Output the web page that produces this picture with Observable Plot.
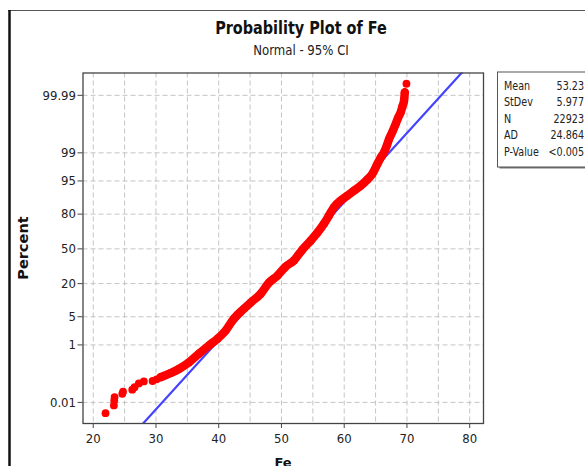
<!DOCTYPE html>
<html><head><meta charset="utf-8">
<script src="https://cdn.jsdelivr.net/npm/d3@7"></script>
<script src="https://cdn.jsdelivr.net/npm/@observablehq/plot@0.6"></script>
<style>
html,body{margin:0;padding:0;background:#fff;}
#wrap{position:relative;width:585px;height:466px;overflow:hidden;background:#fff;}
#wrap svg{position:absolute;left:0;top:0;}
</style></head><body>
<div id="wrap"></div>
<script>
// ---- data ----
const tailFe  = [21.96, 23.29, 23.35, 23.40, 24.63, 24.75, 26.22, 26.59, 27.27, 28.07, 29.46, 30.10];
const tailPct = [0.00345, 0.0075, 0.0121, 0.0165, 0.0224, 0.027, 0.0325, 0.0404, 0.0557, 0.0664, 0.0687, 0.0789];
const bandFe  = [30.73, 32.33, 33.65, 35.25, 36.84, 38.44, 39.78, 41.10, 42.42, 44.02, 45.09, 46.68, 48.01, 49.35, 50.67, 51.99, 53.33, 54.66, 55.73, 56.78, 57.58, 58.37, 59.44, 60.51, 61.56, 62.63, 63.70, 64.50, 65.30, 65.82, 66.35, 66.78, 67.15, 67.69, 68.21, 68.61, 69.01, 69.28, 69.54, 69.65];
const bandPct = [0.0935, 0.131, 0.181, 0.298, 0.554, 0.964, 1.46, 2.39, 4.55, 7.35, 9.68, 13.8, 20.6, 25.8, 33.4, 39.0, 49.2, 57.9, 65.2, 72.9, 79.1, 84.4, 87.9, 90.15, 92.07, 93.7, 95.35, 96.56, 98.03, 98.645, 99.036, 99.379, 99.609, 99.774, 99.8777, 99.9264, 99.9534, 99.972, 99.9835, 99.9925];
const topFe  = [69.92];
const topPct = [99.99683];
const yTickPct    = [0.01, 1, 5, 20, 50, 80, 95, 99, 99.99];
const yTickLabels = ["0.01", "1", "5", "20", "50", "80", "95", "99", "99.99"];
const xTicks = [20, 30, 40, 50, 60, 70, 80];
const xGrid  = [20, 25, 30, 35, 40, 45, 50, 55, 60, 65, 70, 75, 80];
const statLabels = ["Mean", "StDev", "N", "AD", "P-Value"];
const statValues = ["53.23", "5.977", "22923", "24.864", "<0.005"];
const fitFe = [26, 81];

// inverse normal CDF (Acklam)
function probit(p){
  const a=[-3.969683028665376e+01,2.209460984245205e+02,-2.759285104469687e+02,1.383577518672690e+02,-3.066479806614716e+01,2.506628277459239e+00];
  const b=[-5.447609879822406e+01,1.615858368580409e+02,-1.556989798598866e+02,6.680131188771972e+01,-1.328068155288572e+01];
  const c=[-7.784894002430293e-03,-3.223964580411365e-01,-2.400758277161838e+00,-2.549732539343734e+00,4.374664141464968e+00,2.938163982698783e+00];
  const d=[7.784695709041462e-03,3.224671290700398e-01,2.445134137142996e+00,3.754408661907416e+00];
  const pl=0.02425, ph=1-pl; let q,r;
  if(p<pl){q=Math.sqrt(-2*Math.log(p));return (((((c[0]*q+c[1])*q+c[2])*q+c[3])*q+c[4])*q+c[5])/((((d[0]*q+d[1])*q+d[2])*q+d[3])*q+1);}
  if(p<=ph){q=p-0.5;r=q*q;return (((((a[0]*r+a[1])*r+a[2])*r+a[3])*r+a[4])*r+a[5])*q/(((((b[0]*r+b[1])*r+b[2])*r+b[3])*r+b[4])*r+1);}
  q=Math.sqrt(-2*Math.log(1-p));return -(((((c[0]*q+c[1])*q+c[2])*q+c[3])*q+c[4])*q+c[5])/((((d[0]*q+d[1])*q+d[2])*q+d[3])*q+1);
}
const zOf = pct => probit(pct/100);
const mean = +statValues[0], sd = +statValues[1];

const band = bandFe.map((x,i)=>({x, z: zOf(bandPct[i])}));
const pts = [
  ...tailFe.map((x,i)=>({x, z: zOf(tailPct[i])})),
  ...band,
  ...topFe.map((x,i)=>({x, z: zOf(topPct[i])}))
];
const fit = fitFe.map(x=>({x, z:(x-mean)/sd}));
const yTickZ = yTickPct.map(zOf);
const yFmt = v => { const i = yTickZ.findIndex(t=>Math.abs(t-v)<1e-9); return i<0 ? "" : yTickLabels[i]; };

const plot = Plot.plot({
  width: 585, height: 466,
  marginLeft: 82.5, marginRight: 102, marginTop: 72.5, marginBottom: 43,
  style: {fontFamily: '"DejaVu Sans Condensed","DejaVu Sans",sans-serif', fontSize: "13px", color: "#222", background: "transparent"},
  x: {domain: [18.37, 82.2]},
  y: {domain: [-4.23, 4.26]},
  marks: [
    Plot.ruleX(xGrid, {stroke: "#c4c4c4", strokeDasharray: "5,3"}),
    Plot.ruleY(yTickZ, {stroke: "#c4c4c4", strokeDasharray: "5,3"}),
    Plot.line(fit, {x: "x", y: "z", stroke: "#4444ff", strokeWidth: 2.2, clip: true}),
    Plot.line(band, {x: "x", y: "z", stroke: "#ff0000", strokeWidth: 8.5, strokeLinecap: "round", strokeLinejoin: "round", curve: "monotone-x"}),
    Plot.dot(pts, {x: "x", y: "z", r: 3.9, fill: "#ff0000"}),
    Plot.frame({stroke: "#444", strokeWidth: 1.3}),
    Plot.axisX({ticks: xTicks, tickSize: 5, tickPadding: 5, label: null, stroke: "#444", fill: "#222"}),
    Plot.axisY({ticks: yTickZ, tickFormat: yFmt, tickSize: 5, tickPadding: 2, label: null, stroke: "#444", fill: "#222"})
  ]
});
const wrap = document.getElementById("wrap");
wrap.appendChild(plot);

// overlay: window border, titles, axis labels, stats box
const svg = d3.select(wrap).append("svg").attr("width", 585).attr("height", 466)
  .style("font-family", '"DejaVu Sans",sans-serif');
svg.append("line").attr("x1", 8).attr("x2", 585).attr("y1", 10.5).attr("y2", 10.5).attr("stroke", "#555").attr("stroke-width", 1);
svg.append("line").attr("x1", 9.5).attr("x2", 9.5).attr("y1", 10).attr("y2", 466).attr("stroke", "#111").attr("stroke-width", 2.5);

svg.append("text").attr("transform", "translate(301,33.5) scale(0.78,1)")
  .attr("text-anchor", "middle").attr("font-weight", "bold").attr("font-size", 18.5).attr("fill", "#111")
  .text("Probability Plot of Fe");
svg.append("text").attr("transform", "translate(301,55) scale(0.84,1)")
  .attr("text-anchor", "middle").attr("font-size", 14).attr("fill", "#222")
  .text("Normal - 95% CI");
svg.append("text").attr("transform", "translate(28,248) rotate(-90)")
  .attr("text-anchor", "middle").attr("font-weight", "bold").attr("font-size", 14.5).attr("fill", "#111")
  .text("Percent");
svg.append("text").attr("transform", "translate(283,467)")
  .attr("text-anchor", "middle").attr("font-weight", "bold").attr("font-size", 13).attr("fill", "#111")
  .text("Fe");

// stats box
svg.append("rect").attr("x", 499.5).attr("y", 73.5).attr("width", 100).attr("height", 95).attr("fill", "#777");
svg.append("rect").attr("x", 497.5).attr("y", 72).attr("width", 100).attr("height", 95)
  .attr("fill", "#fff").attr("stroke", "#555").attr("stroke-width", 1);
statLabels.forEach((lab, i) => {
  const y = 89.5 + i * 16.5;
  svg.append("text").attr("transform", `translate(504,${y}) scale(0.8,1)`)
    .attr("font-size", 12).attr("fill", "#222").text(lab);
  svg.append("text").attr("transform", `translate(584,${y}) scale(0.8,1)`)
    .attr("text-anchor", "end").attr("font-size", 12).attr("fill", "#222").text(statValues[i]);
});
</script>
</body></html>
